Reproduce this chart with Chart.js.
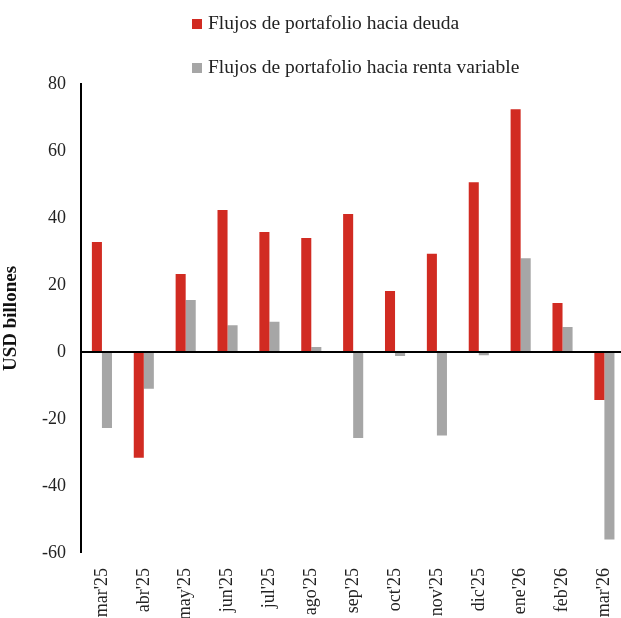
<!DOCTYPE html>
<html>
<head>
<meta charset="utf-8">
<script src="https://cdn.jsdelivr.net/npm/chart.js@4/dist/chart.umd.min.js"></script>
<style>
  html, body { margin: 0; padding: 0; background: #fff; overflow: hidden; }
  #wrap { width: 633px; height: 618px; position: relative; }
</style>
</head>
<body>
<div id="wrap"><canvas id="c"></canvas></div>
<script>
// Monthly portfolio flows, USD billions
const months = ["mar'25", "abr'25", "may'25", "jun'25", "jul'25", "ago'25", "sep'25",
                "oct'25", "nov'25", "dic'25", "ene'26", "feb'26", "mar'26"];
const deuda = [32.8, -31.6, 23.3, 42.4, 35.8, 34.0, 41.2, 18.2, 29.3, 50.7, 72.5, 14.6, -14.3];
const rentaVariable = [-22.7, -11.0, 15.5, 8.0, 9.0, 1.5, -25.7, -1.2, -24.9, -1.0, 28.0, 7.5, -56.0];
const yTicks = [-60, -40, -20, 0, 20, 40, 60, 80];

const seriesNames = ["Flujos de portafolio hacia deuda", "Flujos de portafolio hacia renta variable"];
const RED = '#D12B22';
const GRAY = '#A6A6A6';
const SERIF = '"Liberation Serif", "Times New Roman", serif';

// Two-row legend drawn in the top margin
const stackedLegend = {
  id: 'stackedLegend',
  afterDraw(chart) {
    const ctx = chart.ctx;
    ctx.save();
    ctx.font = '19.5px ' + SERIF;
    ctx.textBaseline = 'middle';
    ctx.textAlign = 'left';
    const rows = [24, 68];
    chart.data.datasets.forEach((ds, i) => {
      const y = rows[i];
      ctx.fillStyle = ds.backgroundColor;
      ctx.fillRect(192, y - 5, 10, 10);
      ctx.fillStyle = '#222';
      ctx.fillText(ds.label, 208, y);
    });
    ctx.restore();
  }
};

new Chart(document.getElementById('c'), {
  type: 'bar',
  data: {
    labels: months,
    datasets: [
      { label: seriesNames[0], data: deuda, backgroundColor: RED },
      { label: seriesNames[1], data: rentaVariable, backgroundColor: GRAY }
    ]
  },
  options: {
    responsive: true,
    maintainAspectRatio: false,
    animation: false,
    devicePixelRatio: 1,
    layout: { padding: { top: 84, right: 0, left: 0, bottom: 0 } },
    datasets: { bar: { categoryPercentage: 0.48, barPercentage: 1.0 } },
    plugins: {
      legend: { display: false },
      tooltip: { enabled: false }
    },
    scales: {
      x: {
        grid: { display: false },
        border: { display: false },
        ticks: {
          minRotation: 90,
          maxRotation: 90,
          padding: 7,
          color: '#222',
          font: { family: SERIF, size: 18 }
        },
        afterFit(scale) { scale.height = 65; }
      },
      y: {
        min: -60,
        max: 80,
        afterBuildTicks(scale) { scale.ticks = yTicks.map(v => ({ value: v })); },
        grid: {
          drawTicks: false,
          color: c => (c.tick && c.tick.value === 0 ? '#000' : 'rgba(0,0,0,0)'),
          lineWidth: c => (c.tick && c.tick.value === 0 ? 2 : 0)
        },
        border: { display: true, color: '#000', width: 2 },
        ticks: {
          padding: 15,
          color: '#222',
          font: { family: SERIF, size: 18 }
        },
        title: {
          display: true,
          text: 'USD billones',
          color: '#111',
          padding: { top: 0, bottom: 0 },
          font: { family: SERIF, size: 19, weight: 'bold' }
        },
        afterFit(scale) { scale.width = 81; }
      }
    }
  },
  plugins: [stackedLegend]
});
</script>
</body>
</html>
